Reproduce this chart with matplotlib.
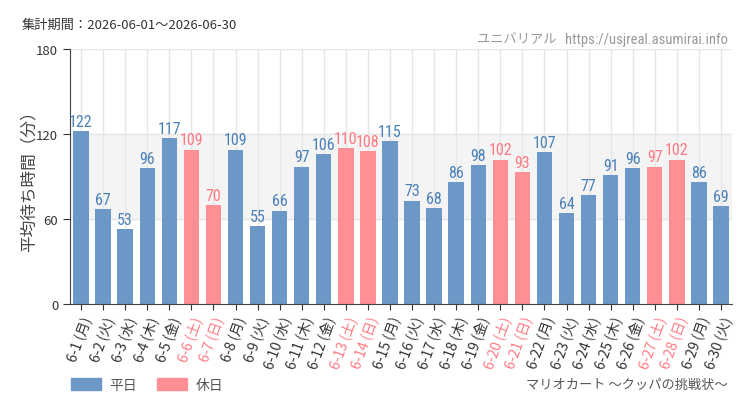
import matplotlib
matplotlib.use("Agg")
import matplotlib.pyplot as plt
from matplotlib.patches import Patch

plt.rcParams['font.family'] = ['Noto Sans CJK JP', 'DejaVu Sans']

# ==========================================
# Data
# ==========================================

days = list(range(1, 31))
weekdays = ["月", "火", "水", "木", "金", "土", "日"] * 5
weekdays = weekdays[:30]
wait = [122, 67, 53, 96, 117, 109, 70, 109, 55, 66,
        97, 106, 110, 108, 115, 73, 68, 86, 98, 102,
        93, 107, 64, 77, 91, 96, 97, 102, 86, 69]
holiday = [w in ("土", "日") for w in weekdays]

labels = [f"6-{d} ({w})" for d, w in zip(days, weekdays)]

blue = "#6b98c6"
pink = "#ff8f94"
blue_txt = "#4a80b8"
pink_txt = "#ff7a82"
narrow = ["Roboto Condensed", "Roboto", "DejaVu Sans"]

# ==========================================
# Plot
# ==========================================

fig = plt.figure(figsize=(7.5, 4.1), dpi=100)
ax = fig.add_axes([70/750, 1 - 305/410, 662/750, 255/410])

x = list(range(len(wait)))
colors = [pink if h else blue for h in holiday]

ax.axhspan(60, 120, color="#f4f4f4", zorder=0)
for xi in x:
    ax.axvline(xi, color="#e6e6e6", lw=1, zorder=0.5)
for yv in (60, 120, 180):
    ax.axhline(yv, color="#e6e6e6", lw=1, zorder=0.5)

ax.bar(x, wait, width=0.7, color=colors, zorder=2)

for xi, v, h in zip(x, wait, holiday):
    ax.text(xi, v + 1.5, str(v), ha="center", va="bottom",
            fontsize=11.5, family=narrow,
            color=pink_txt if h else blue_txt, zorder=3)

ax.set_xlim(-0.5, 29.5)
ax.set_ylim(0, 180)
ax.set_yticks([0, 60, 120, 180])
ax.tick_params(axis="y", labelsize=9.5, colors="#333333", length=5)
ax.tick_params(axis="x", length=4, colors="#333333")
ax.set_xticks(x)
ax.set_xticklabels(labels, rotation=70, ha="right", rotation_mode="anchor",
                   fontsize=10)
for t, h in zip(ax.get_xticklabels(), holiday):
    t.set_color(pink_txt if h else "#333333")

for s in ("top", "right"):
    ax.spines[s].set_visible(False)
ax.spines["left"].set_color("#444444")
ax.spines["bottom"].set_color("#444444")

ax.set_ylabel("平均待ち時間（分）", fontsize=12, color="#444444")
ax.yaxis.set_label_coords(-32/662, 0.5)

fig.text(22/750, 1 - 25/410, "集計期間：2026-06-01～2026-06-30",
         fontsize=9.5, color="#333333", va="center")
url = fig.text(728/750, 1 - 40/410, "https://usjreal.asumirai.info",
               fontsize=10.5, color="#999999", va="center", ha="right",
               family=narrow)
ax.annotate("ユニバリアル", xy=(0, 0.5), xycoords=url,
            xytext=(-6, 0), textcoords="offset points",
            fontsize=9.5, color="#999999", va="center", ha="right",
            annotation_clip=False)
fig.text(728/750, 1 - 385/410, "マリオカート ～クッパの挑戦状～",
         fontsize=9.5, color="#555555", va="center", ha="right")

handles = [Patch(color=blue, label="平日"), Patch(color=pink, label="休日")]
fig.legend(handles=handles, loc="center left", bbox_to_anchor=(58/750, 1 - 386/410),
           ncol=2, frameon=False, fontsize=10, handlelength=2.2,
           handleheight=0.9, handletextpad=0.6, columnspacing=1.4,
           labelcolor="#555555")

fig.savefig("out.png", dpi=100)
